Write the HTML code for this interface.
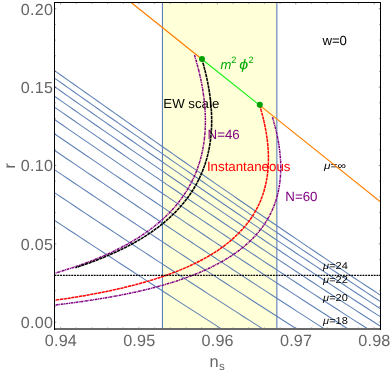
<!DOCTYPE html>
<html><head><meta charset="utf-8"><title>plot</title>
<style>html,body{margin:0;padding:0;background:#fff;width:390px;height:371px;overflow:hidden;font-family:"Liberation Sans",sans-serif}</style>
</head><body>
<svg width="390" height="371" viewBox="0 0 390 371" style="position:absolute;left:0;top:0;will-change:opacity;text-rendering:geometricPrecision;font-family:'Liberation Sans',sans-serif">
<defs><clipPath id="c"><rect x="54.5" y="2.5" width="326.0" height="326.5"/></clipPath></defs>
<g clip-path="url(#c)">
<rect x="162.45" y="0" width="114.40" height="340" fill="#ffffd8"/>
<path d="M44.92 214.03 L50.77 217.89 L56.61 221.75 L62.46 225.60 L68.31 229.45 L74.15 233.30 L80.00 237.15 L85.84 240.99 L91.69 244.82 L97.53 248.66 L103.38 252.48 L109.22 256.31 L115.07 260.13 L120.91 263.94 L126.76 267.76 L132.60 271.56 L138.45 275.37 L144.29 279.17 L150.14 282.96 L155.98 286.75 L161.83 290.53 L167.68 294.31 L173.52 298.09 L179.37 301.86 L185.21 305.62 L191.06 309.38 L196.90 313.14 L202.75 316.89 L208.59 320.63 L214.44 324.37 L220.28 328.11 L226.13 331.83 L231.97 335.56 L237.82 339.27 L243.66 342.98 L249.51 346.69 L255.35 350.39 L261.20 354.08 L267.04 357.76 L272.89 361.44 L278.74 365.11 L284.58 368.78 L290.43 372.44 L296.27 376.09 L302.12 379.73 L307.96 383.37 L313.81 387.00 L319.65 390.62 L325.50 394.23 L331.34 397.84 L337.19 401.44 L343.03 405.03 L348.88 408.61 L354.72 412.18 L360.57 415.74 L366.41 419.29 L372.26 422.84 L378.11 426.37 L383.95 429.89 L389.80 433.41" stroke="#5e81b5" stroke-width="1.05" fill="none"/>
<path d="M44.92 186.33 L50.77 190.23 L56.61 194.13 L62.46 198.03 L68.31 201.92 L74.15 205.81 L80.00 209.70 L85.84 213.58 L91.69 217.45 L97.53 221.33 L103.38 225.20 L109.22 229.06 L115.07 232.92 L120.91 236.78 L126.76 240.63 L132.60 244.48 L138.45 248.33 L144.29 252.17 L150.14 256.00 L155.98 259.83 L161.83 263.66 L167.68 267.48 L173.52 271.29 L179.37 275.11 L185.21 278.91 L191.06 282.71 L196.90 286.51 L202.75 290.30 L208.59 294.09 L214.44 297.87 L220.28 301.64 L226.13 305.41 L231.97 309.18 L237.82 312.93 L243.66 316.69 L249.51 320.43 L255.35 324.17 L261.20 327.90 L267.04 331.63 L272.89 335.35 L278.74 339.06 L284.58 342.77 L290.43 346.47 L296.27 350.16 L302.12 353.84 L307.96 357.52 L313.81 361.19 L319.65 364.85 L325.50 368.51 L331.34 372.15 L337.19 375.79 L343.03 379.42 L348.88 383.03 L354.72 386.64 L360.57 390.24 L366.41 393.84 L372.26 397.42 L378.11 400.99 L383.95 404.55 L389.80 408.10" stroke="#5e81b5" stroke-width="1.05" fill="none"/>
<path d="M44.92 163.27 L50.77 167.21 L56.61 171.15 L62.46 175.08 L68.31 179.01 L74.15 182.94 L80.00 186.86 L85.84 190.78 L91.69 194.70 L97.53 198.61 L103.38 202.51 L109.22 206.42 L115.07 210.32 L120.91 214.21 L126.76 218.10 L132.60 221.99 L138.45 225.87 L144.29 229.75 L150.14 233.62 L155.98 237.49 L161.83 241.36 L167.68 245.22 L173.52 249.07 L179.37 252.92 L185.21 256.77 L191.06 260.61 L196.90 264.44 L202.75 268.27 L208.59 272.10 L214.44 275.91 L220.28 279.73 L226.13 283.54 L231.97 287.34 L237.82 291.13 L243.66 294.92 L249.51 298.71 L255.35 302.49 L261.20 306.26 L267.04 310.02 L272.89 313.78 L278.74 317.53 L284.58 321.28 L290.43 325.02 L296.27 328.75 L302.12 332.47 L307.96 336.18 L313.81 339.89 L319.65 343.59 L325.50 347.28 L331.34 350.97 L337.19 354.64 L343.03 358.31 L348.88 361.96 L354.72 365.61 L360.57 369.25 L366.41 372.87 L372.26 376.49 L378.11 380.10 L383.95 383.69 L389.80 387.28" stroke="#5e81b5" stroke-width="1.05" fill="none"/>
<path d="M44.92 143.83 L50.77 147.80 L56.61 151.77 L62.46 155.74 L68.31 159.70 L74.15 163.66 L80.00 167.62 L85.84 171.58 L91.69 175.52 L97.53 179.47 L103.38 183.41 L109.22 187.35 L115.07 191.29 L120.91 195.22 L126.76 199.14 L132.60 203.06 L138.45 206.98 L144.29 210.89 L150.14 214.80 L155.98 218.71 L161.83 222.61 L167.68 226.50 L173.52 230.39 L179.37 234.28 L185.21 238.16 L191.06 242.04 L196.90 245.91 L202.75 249.77 L208.59 253.63 L214.44 257.49 L220.28 261.34 L226.13 265.18 L231.97 269.02 L237.82 272.85 L243.66 276.68 L249.51 280.50 L255.35 284.32 L261.20 288.12 L267.04 291.92 L272.89 295.72 L278.74 299.51 L284.58 303.29 L290.43 307.06 L296.27 310.83 L302.12 314.59 L307.96 318.34 L313.81 322.08 L319.65 325.82 L325.50 329.55 L331.34 333.27 L337.19 336.98 L343.03 340.68 L348.88 344.37 L354.72 348.05 L360.57 351.72 L366.41 355.39 L372.26 359.04 L378.11 362.68 L383.95 366.31 L389.80 369.93" stroke="#5e81b5" stroke-width="1.05" fill="none"/>
<path d="M44.92 127.23 L50.77 131.24 L56.61 135.24 L62.46 139.24 L68.31 143.24 L74.15 147.23 L80.00 151.22 L85.84 155.21 L91.69 159.19 L97.53 163.17 L103.38 167.14 L109.22 171.11 L115.07 175.08 L120.91 179.04 L126.76 183.00 L132.60 186.95 L138.45 190.90 L144.29 194.85 L150.14 198.79 L155.98 202.73 L161.83 206.66 L167.68 210.59 L173.52 214.51 L179.37 218.43 L185.21 222.35 L191.06 226.26 L196.90 230.16 L202.75 234.06 L208.59 237.96 L214.44 241.84 L220.28 245.73 L226.13 249.61 L231.97 253.48 L237.82 257.34 L243.66 261.20 L249.51 265.06 L255.35 268.91 L261.20 272.75 L267.04 276.59 L272.89 280.41 L278.74 284.24 L284.58 288.05 L290.43 291.86 L296.27 295.66 L302.12 299.45 L307.96 303.24 L313.81 307.02 L319.65 310.79 L325.50 314.55 L331.34 318.30 L337.19 322.05 L343.03 325.78 L348.88 329.51 L354.72 333.22 L360.57 336.93 L366.41 340.63 L372.26 344.31 L378.11 347.99 L383.95 351.65 L389.80 355.30" stroke="#5e81b5" stroke-width="1.05" fill="none"/>
<path d="M44.92 112.93 L50.77 116.97 L56.61 121.00 L62.46 125.03 L68.31 129.06 L74.15 133.08 L80.00 137.10 L85.84 141.11 L91.69 145.12 L97.53 149.13 L103.38 153.14 L109.22 157.14 L115.07 161.13 L120.91 165.13 L126.76 169.11 L132.60 173.10 L138.45 177.08 L144.29 181.06 L150.14 185.03 L155.98 189.00 L161.83 192.96 L167.68 196.92 L173.52 200.88 L179.37 204.83 L185.21 208.77 L191.06 212.71 L196.90 216.65 L202.75 220.58 L208.59 224.50 L214.44 228.42 L220.28 232.34 L226.13 236.25 L231.97 240.15 L237.82 244.05 L243.66 247.94 L249.51 251.83 L255.35 255.71 L261.20 259.58 L267.04 263.45 L272.89 267.31 L278.74 271.17 L284.58 275.01 L290.43 278.85 L296.27 282.69 L302.12 286.51 L307.96 290.33 L313.81 294.14 L319.65 297.94 L325.50 301.74 L331.34 305.52 L337.19 309.30 L343.03 313.07 L348.88 316.83 L354.72 320.58 L360.57 324.31 L366.41 328.04 L372.26 331.76 L378.11 335.47 L383.95 339.16 L389.80 342.85" stroke="#5e81b5" stroke-width="1.05" fill="none"/>
<path d="M44.92 100.50 L50.77 104.56 L56.61 108.62 L62.46 112.68 L68.31 116.73 L74.15 120.78 L80.00 124.82 L85.84 128.87 L91.69 132.91 L97.53 136.94 L103.38 140.97 L109.22 145.00 L115.07 149.03 L120.91 153.05 L126.76 157.06 L132.60 161.08 L138.45 165.09 L144.29 169.09 L150.14 173.09 L155.98 177.09 L161.83 181.08 L167.68 185.07 L173.52 189.05 L179.37 193.03 L185.21 197.01 L191.06 200.97 L196.90 204.94 L202.75 208.90 L208.59 212.85 L214.44 216.80 L220.28 220.75 L226.13 224.69 L231.97 228.62 L237.82 232.55 L243.66 236.47 L249.51 240.39 L255.35 244.30 L261.20 248.20 L267.04 252.10 L272.89 255.99 L278.74 259.88 L284.58 263.75 L290.43 267.62 L296.27 271.49 L302.12 275.34 L307.96 279.19 L313.81 283.03 L319.65 286.87 L325.50 290.69 L331.34 294.51 L337.19 298.32 L343.03 302.11 L348.88 305.90 L354.72 309.68 L360.57 313.45 L366.41 317.21 L372.26 320.96 L378.11 324.70 L383.95 328.42 L389.80 332.14" stroke="#5e81b5" stroke-width="1.05" fill="none"/>
<path d="M44.92 89.60 L50.77 93.68 L56.61 97.77 L62.46 101.85 L68.31 105.93 L74.15 110.00 L80.00 114.07 L85.84 118.14 L91.69 122.21 L97.53 126.27 L103.38 130.32 L109.22 134.38 L115.07 138.43 L120.91 142.48 L126.76 146.52 L132.60 150.56 L138.45 154.59 L144.29 158.63 L150.14 162.65 L155.98 166.68 L161.83 170.69 L167.68 174.71 L173.52 178.72 L179.37 182.73 L185.21 186.73 L191.06 190.72 L196.90 194.72 L202.75 198.70 L208.59 202.68 L214.44 206.66 L220.28 210.63 L226.13 214.60 L231.97 218.56 L237.82 222.52 L243.66 226.47 L249.51 230.41 L255.35 234.35 L261.20 238.28 L267.04 242.21 L272.89 246.13 L278.74 250.04 L284.58 253.95 L290.43 257.85 L296.27 261.74 L302.12 265.63 L307.96 269.50 L313.81 273.37 L319.65 277.23 L325.50 281.09 L331.34 284.93 L337.19 288.77 L343.03 292.60 L348.88 296.42 L354.72 300.22 L360.57 304.02 L366.41 307.81 L372.26 311.59 L378.11 315.36 L383.95 319.11 L389.80 322.85" stroke="#5e81b5" stroke-width="1.05" fill="none"/>
<path d="M44.92 79.97 L50.77 84.08 L56.61 88.19 L62.46 92.29 L68.31 96.39 L74.15 100.49 L80.00 104.59 L85.84 108.68 L91.69 112.77 L97.53 116.85 L103.38 120.93 L109.22 125.01 L115.07 129.09 L120.91 133.16 L126.76 137.23 L132.60 141.29 L138.45 145.35 L144.29 149.40 L150.14 153.46 L155.98 157.50 L161.83 161.55 L167.68 165.59 L173.52 169.62 L179.37 173.65 L185.21 177.68 L191.06 181.70 L196.90 185.72 L202.75 189.73 L208.59 193.74 L214.44 197.74 L220.28 201.74 L226.13 205.73 L231.97 209.72 L237.82 213.70 L243.66 217.68 L249.51 221.65 L255.35 225.61 L261.20 229.57 L267.04 233.53 L272.89 237.47 L278.74 241.41 L284.58 245.35 L290.43 249.27 L296.27 253.19 L302.12 257.10 L307.96 261.01 L313.81 264.91 L319.65 268.79 L325.50 272.68 L331.34 276.55 L337.19 280.41 L343.03 284.27 L348.88 288.11 L354.72 291.95 L360.57 295.78 L366.41 299.59 L372.26 303.40 L378.11 307.19 L383.95 310.98 L389.80 314.75" stroke="#5e81b5" stroke-width="1.05" fill="none"/>
<path d="M44.92 71.42 L50.77 75.55 L56.61 79.68 L62.46 83.80 L68.31 87.93 L74.15 92.05 L80.00 96.16 L85.84 100.28 L91.69 104.39 L97.53 108.49 L103.38 112.60 L109.22 116.70 L115.07 120.80 L120.91 124.89 L126.76 128.98 L132.60 133.06 L138.45 137.15 L144.29 141.23 L150.14 145.30 L155.98 149.37 L161.83 153.44 L167.68 157.50 L173.52 161.56 L179.37 165.61 L185.21 169.67 L191.06 173.71 L196.90 177.75 L202.75 181.79 L208.59 185.82 L214.44 189.85 L220.28 193.87 L226.13 197.89 L231.97 201.90 L237.82 205.90 L243.66 209.90 L249.51 213.90 L255.35 217.89 L261.20 221.87 L267.04 225.85 L272.89 229.82 L278.74 233.79 L284.58 237.75 L290.43 241.70 L296.27 245.64 L302.12 249.58 L307.96 253.51 L313.81 257.43 L319.65 261.35 L325.50 265.26 L331.34 269.16 L337.19 273.05 L343.03 276.93 L348.88 280.80 L354.72 284.66 L360.57 288.52 L366.41 292.36 L372.26 296.19 L378.11 300.01 L383.95 303.82 L389.80 307.62" stroke="#5e81b5" stroke-width="1.05" fill="none"/>
<path d="M44.92 63.77 L50.77 67.92 L56.61 72.07 L62.46 76.22 L68.31 80.36 L74.15 84.50 L80.00 88.64 L85.84 92.77 L91.69 96.90 L97.53 101.03 L103.38 105.15 L109.22 109.27 L115.07 113.39 L120.91 117.51 L126.76 121.62 L132.60 125.73 L138.45 129.83 L144.29 133.93 L150.14 138.03 L155.98 142.12 L161.83 146.21 L167.68 150.29 L173.52 154.37 L179.37 158.45 L185.21 162.52 L191.06 166.59 L196.90 170.65 L202.75 174.71 L208.59 178.76 L214.44 182.81 L220.28 186.86 L226.13 190.90 L231.97 194.93 L237.82 198.96 L243.66 202.99 L249.51 207.00 L255.35 211.02 L261.20 215.02 L267.04 219.03 L272.89 223.02 L278.74 227.01 L284.58 230.99 L290.43 234.97 L296.27 238.94 L302.12 242.90 L307.96 246.85 L313.81 250.80 L319.65 254.74 L325.50 258.67 L331.34 262.60 L337.19 266.51 L343.03 270.42 L348.88 274.32 L354.72 278.20 L360.57 282.08 L366.41 285.95 L372.26 289.81 L378.11 293.65 L383.95 297.49 L389.80 301.31" stroke="#5e81b5" stroke-width="1.05" fill="none"/>
<line x1="162.45" y1="0" x2="162.45" y2="340" stroke="#5e81b5" stroke-width="1.1"/>
<line x1="276.85" y1="0" x2="276.85" y2="340" stroke="#5e81b5" stroke-width="1.1"/>
<text x="322.4" y="45.0" font-size="13.2" fill="#000" text-anchor="start" >w=0</text>
<text x="163.3" y="107.6" font-size="13.25" fill="#000" text-anchor="start" >EW scale</text>
<text x="207.6" y="139.0" font-size="13.3" fill="#800080" text-anchor="start" >N=46</text>
<text x="206.9" y="170.6" font-size="13.3" fill="#ff0000" text-anchor="start" >Instantaneous</text>
<text x="285.3" y="201.4" font-size="13.3" fill="#800080" text-anchor="start" >N=60</text>
<text x="220.6" y="68.7" font-size="13" fill="#00aa00" text-anchor="start" font-style="italic">m</text>
<text x="231.3" y="63.0" font-size="9.2" fill="#00aa00" text-anchor="start" >2</text>
<text transform="translate(239.3,68.7) scale(1.24,1.05)" font-size="13" fill="#00aa00" font-style="italic">ϕ</text>
<text x="248.4" y="63.0" font-size="9.2" fill="#00aa00" text-anchor="start" >2</text>
<text transform="translate(324.0,169.4) scale(1.19,1)" font-size="10" fill="#000"><tspan font-style="italic">μ</tspan>=∞</text>
<text transform="translate(323.1,268.6) scale(1.1,1)" font-size="10" fill="#000"><tspan font-style="italic">μ</tspan>=24</text>
<text transform="translate(323.1,283.0) scale(1.1,1)" font-size="10" fill="#000"><tspan font-style="italic">μ</tspan>=22</text>
<text transform="translate(323.1,300.8) scale(1.1,1)" font-size="10" fill="#000"><tspan font-style="italic">μ</tspan>=20</text>
<text transform="translate(323.1,324.4) scale(1.1,1)" font-size="10" fill="#000"><tspan font-style="italic">μ</tspan>=18</text>
<line x1="100" y1="-22.42" x2="202.0" y2="59.15" stroke="#ff8000" stroke-width="1.25"/>
<line x1="259.8" y1="105.37" x2="400" y2="217.49" stroke="#ff8000" stroke-width="1.25"/>
<line x1="202.0" y1="59.15" x2="259.8" y2="105.37" stroke="#1cf01c" stroke-width="1.25"/>
<path d="M194.52 55.02 L194.53 55.07 L194.55 55.11 L194.56 55.16 L194.58 55.21 L194.59 55.27 L194.61 55.32 L194.62 55.37 L194.64 55.43 L194.66 55.48 L194.67 55.54 L194.69 55.60 L194.71 55.65 L194.73 55.71 L194.75 55.78 L194.76 55.84 L194.78 55.90 L194.80 55.97 L194.82 56.03 L194.84 56.10 L194.86 56.17 L194.88 56.24 L194.91 56.31 L194.93 56.38 L194.95 56.46 L194.97 56.53 L194.99 56.61 L195.02 56.69 L195.04 56.77 L195.07 56.85 L195.09 56.93 L195.12 57.02 L195.14 57.10 L195.17 57.19 L195.19 57.28 L195.22 57.37 L195.25 57.47 L195.28 57.56 L195.30 57.66 L195.33 57.76 L195.36 57.86 L195.39 57.96 L195.42 58.07 L195.46 58.17 L195.49 58.28 L195.52 58.39 L195.55 58.51 L195.59 58.62 L195.62 58.74 L195.66 58.86 L195.69 58.98 L195.73 59.11 L195.76 59.24 L195.80 59.37 L195.84 59.50 L195.88 59.64 L195.92 59.77 L195.96 59.91 L196.00 60.06 L196.04 60.20 L196.08 60.35 L196.13 60.51 L196.17 60.66 L196.21 60.82 L196.26 60.98 L196.31 61.14 L196.35 61.31 L196.40 61.48 L196.45 61.66 L196.50 61.84 L196.55 62.02 L196.60 62.20 L196.65 62.39 L196.71 62.58 L196.76 62.78 L196.82 62.98 L196.87 63.19 L196.93 63.39 L196.99 63.61 L197.05 63.82 L197.10 64.05 L197.17 64.27 L197.23 64.50 L197.29 64.74 L197.35 64.98 L197.42 65.22 L197.49 65.47 L197.55 65.72 L197.62 65.98 L197.69 66.25 L197.76 66.52 L197.83 66.79 L197.90 67.07 L197.98 67.36 L198.05 67.65 L198.13 67.95 L198.21 68.25 L198.29 68.57 L198.37 68.88 L198.45 69.21 L198.53 69.53 L198.61 69.87 L198.70 70.21 L198.78 70.56 L198.87 70.92 L198.96 71.29 L199.05 71.66 L199.14 72.04 L199.23 72.43 L199.33 72.82 L199.42 73.23 L199.52 73.64 L199.61 74.06 L199.71 74.49 L199.81 74.92 L199.91 75.37 L200.02 75.83 L200.12 76.29 L200.23 76.77 L200.33 77.25 L200.44 77.75 L200.55 78.25 L200.66 78.77 L200.77 79.30 L200.88 79.83 L200.99 80.38 L201.11 80.94 L201.22 81.51 L201.34 82.10 L201.45 82.69 L201.57 83.30 L201.69 83.92 L201.81 84.56 L201.93 85.21 L202.05 85.87 L202.17 86.54 L202.29 87.23 L202.41 87.94 L202.54 88.65 L202.66 89.39 L202.78 90.14 L202.90 90.90 L203.03 91.69 L203.15 92.48 L203.27 93.30 L203.39 94.13 L203.51 94.98 L203.63 95.85 L203.75 96.74 L203.86 97.65 L203.98 98.57 L204.09 99.52 L204.20 100.48 L204.31 101.47 L204.42 102.48 L204.52 103.51 L204.62 104.56 L204.71 105.64 L204.80 106.73 L204.89 107.86 L204.97 109.00 L205.05 110.17 L205.12 111.37 L205.18 112.59 L205.24 113.84 L205.29 115.11 L205.33 116.41 L205.36 117.75 L205.38 119.10 L205.39 120.49 L205.39 121.91 L205.37 123.36 L205.35 124.84 L205.31 126.35 L205.25 127.90 L205.17 129.48 L205.08 131.09 L204.97 132.74 L204.83 134.42 L204.68 136.13 L204.50 137.89 L204.29 139.68 L204.06 141.51 L203.79 143.37 L203.49 145.28 L203.16 147.23 L202.79 149.21 L202.39 151.24 L201.93 153.31 L201.44 155.42 L200.89 157.57 L200.29 159.76 L199.64 162.00 L198.92 164.29 L198.14 166.61 L197.29 168.99 L196.37 171.40 L195.37 173.87 L194.29 176.37 L193.11 178.93 L191.84 181.52 L190.46 184.17 L188.97 186.86 L187.37 189.59 L185.64 192.37 L183.77 195.19 L181.76 198.05 L179.59 200.96 L177.26 203.90 L174.76 206.89 L172.06 209.91 L169.17 212.97 L166.06 216.07 L162.72 219.20 L159.14 222.35 L155.30 225.54 L151.18 228.75 L146.77 231.98 L142.04 235.23 L136.98 238.49 L131.57 241.76 L125.78 245.04 L119.58 248.32 L112.96 251.59 L105.90 254.86 L98.35 258.10 L90.30 261.33 L81.71 264.53 L72.56 267.69 L62.81 270.81 L52.43 273.89 L41.38 276.91 L29.65 279.86 L17.17 282.75 L3.93 285.56" stroke="#800080" stroke-width="1.5" fill="none" stroke-dasharray="2.7 0.6 1.0 0.6"/>
<path d="M272.44 117.10 L272.45 117.14 L272.46 117.19 L272.47 117.23 L272.49 117.27 L272.50 117.32 L272.51 117.36 L272.53 117.41 L272.54 117.46 L272.56 117.51 L272.57 117.56 L272.59 117.61 L272.60 117.66 L272.62 117.71 L272.63 117.77 L272.65 117.82 L272.67 117.88 L272.68 117.93 L272.70 117.99 L272.72 118.05 L272.74 118.11 L272.76 118.17 L272.77 118.24 L272.79 118.30 L272.81 118.36 L272.83 118.43 L272.85 118.50 L272.87 118.57 L272.89 118.64 L272.91 118.71 L272.94 118.78 L272.96 118.86 L272.98 118.93 L273.00 119.01 L273.03 119.09 L273.05 119.17 L273.07 119.25 L273.10 119.34 L273.12 119.42 L273.15 119.51 L273.17 119.60 L273.20 119.69 L273.23 119.78 L273.25 119.88 L273.28 119.97 L273.31 120.07 L273.34 120.17 L273.37 120.27 L273.40 120.37 L273.43 120.48 L273.46 120.59 L273.49 120.70 L273.52 120.81 L273.56 120.93 L273.59 121.04 L273.62 121.16 L273.66 121.28 L273.69 121.41 L273.73 121.53 L273.76 121.66 L273.80 121.79 L273.84 121.93 L273.88 122.06 L273.91 122.20 L273.95 122.34 L273.99 122.49 L274.04 122.64 L274.08 122.79 L274.12 122.94 L274.16 123.10 L274.21 123.26 L274.25 123.42 L274.30 123.59 L274.34 123.76 L274.39 123.93 L274.44 124.11 L274.48 124.29 L274.53 124.47 L274.58 124.66 L274.63 124.85 L274.69 125.05 L274.74 125.25 L274.79 125.45 L274.85 125.66 L274.90 125.87 L274.96 126.08 L275.01 126.30 L275.07 126.53 L275.13 126.76 L275.19 126.99 L275.25 127.23 L275.31 127.47 L275.37 127.72 L275.44 127.97 L275.50 128.23 L275.57 128.49 L275.63 128.76 L275.70 129.04 L275.77 129.32 L275.84 129.60 L275.91 129.89 L275.98 130.19 L276.05 130.49 L276.12 130.80 L276.20 131.12 L276.27 131.44 L276.35 131.77 L276.42 132.11 L276.50 132.45 L276.58 132.80 L276.66 133.16 L276.74 133.52 L276.82 133.89 L276.90 134.27 L276.99 134.66 L277.07 135.06 L277.16 135.46 L277.24 135.87 L277.33 136.29 L277.42 136.72 L277.51 137.16 L277.60 137.61 L277.69 138.07 L277.78 138.53 L277.87 139.01 L277.96 139.50 L278.05 139.99 L278.14 140.50 L278.24 141.02 L278.33 141.55 L278.43 142.09 L278.52 142.64 L278.61 143.20 L278.71 143.78 L278.80 144.37 L278.90 144.97 L278.99 145.58 L279.08 146.21 L279.18 146.84 L279.27 147.50 L279.36 148.16 L279.45 148.84 L279.54 149.54 L279.63 150.25 L279.72 150.98 L279.80 151.72 L279.89 152.47 L279.97 153.25 L280.05 154.04 L280.12 154.85 L280.20 155.67 L280.27 156.51 L280.34 157.37 L280.40 158.25 L280.46 159.15 L280.51 160.07 L280.56 161.00 L280.61 161.96 L280.65 162.94 L280.68 163.94 L280.70 164.96 L280.72 166.00 L280.73 167.07 L280.73 168.16 L280.72 169.27 L280.70 170.40 L280.67 171.56 L280.63 172.75 L280.57 173.96 L280.50 175.20 L280.42 176.46 L280.32 177.75 L280.20 179.07 L280.06 180.41 L279.91 181.79 L279.73 183.19 L279.53 184.62 L279.30 186.08 L279.05 187.58 L278.77 189.10 L278.46 190.66 L278.12 192.24 L277.74 193.86 L277.32 195.51 L276.87 197.20 L276.37 198.92 L275.83 200.67 L275.23 202.45 L274.59 204.27 L273.88 206.13 L273.12 208.02 L272.29 209.94 L271.40 211.90 L270.43 213.89 L269.38 215.92 L268.24 217.99 L267.02 220.08 L265.70 222.21 L264.27 224.38 L262.74 226.58 L261.09 228.81 L259.31 231.07 L257.40 233.36 L255.34 235.68 L253.13 238.03 L250.76 240.41 L248.21 242.81 L245.48 245.24 L242.55 247.68 L239.40 250.15 L236.04 252.63 L232.43 255.13 L228.56 257.63 L224.43 260.15 L220.01 262.67 L215.28 265.19 L210.22 267.70 L204.83 270.21 L199.06 272.71 L192.91 275.19 L186.35 277.65 L179.36 280.08 L171.91 282.49 L163.98 284.85 L155.54 287.18 L146.57 289.45 L137.04 291.68 L126.92 293.85 L116.19 295.95 L104.80 297.98 L92.75 299.94 L79.99 301.83 L66.49 303.63 L52.23 305.35 L37.18 306.97 L21.30 308.51 L4.57 309.95" stroke="#800080" stroke-width="1.5" fill="none" stroke-dasharray="2.7 0.6 1.0 0.6"/>
<path d="M201.94 59.19 L201.95 59.20 L201.95 59.20 L201.95 59.20 L201.95 59.21 L201.95 59.21 L201.95 59.22 L201.95 59.22 L201.95 59.23 L201.96 59.23 L201.96 59.24 L201.96 59.24 L201.96 59.25 L201.96 59.25 L201.96 59.26 L201.96 59.26 L201.97 59.27 L201.97 59.27 L201.97 59.28 L201.97 59.29 L201.97 59.29 L201.98 59.30 L201.98 59.31 L201.98 59.31 L201.98 59.32 L201.98 59.33 L201.99 59.34 L201.99 59.35 L201.99 59.35 L201.99 59.36 L202.00 59.37 L202.00 59.38 L202.00 59.39 L202.01 59.40 L202.01 59.41 L202.01 59.42 L202.01 59.43 L202.02 59.44 L202.02 59.46 L202.02 59.47 L202.03 59.48 L202.03 59.49 L202.04 59.51 L202.04 59.52 L202.04 59.53 L202.05 59.55 L202.05 59.56 L202.06 59.58 L202.06 59.59 L202.07 59.61 L202.07 59.63 L202.08 59.64 L202.08 59.66 L202.09 59.68 L202.09 59.70 L202.10 59.72 L202.10 59.74 L202.11 59.76 L202.12 59.78 L202.12 59.80 L202.13 59.82 L202.13 59.85 L202.14 59.87 L202.15 59.90 L202.16 59.92 L202.16 59.95 L202.17 59.98 L202.18 60.00 L202.19 60.03 L202.20 60.06 L202.21 60.09 L202.22 60.13 L202.22 60.16 L202.23 60.19 L202.24 60.23 L202.25 60.26 L202.27 60.30 L202.28 60.34 L202.29 60.38 L202.30 60.42 L202.31 60.46 L202.32 60.50 L202.34 60.55 L202.35 60.59 L202.36 60.64 L202.38 60.69 L202.39 60.74 L202.41 60.79 L202.42 60.85 L202.44 60.90 L202.45 60.96 L202.47 61.02 L202.49 61.08 L202.51 61.14 L202.53 61.21 L202.54 61.28 L202.56 61.34 L202.58 61.42 L202.60 61.49 L202.63 61.56 L202.65 61.64 L202.67 61.72 L202.69 61.81 L202.72 61.89 L202.74 61.98 L202.77 62.07 L202.80 62.16 L202.82 62.26 L202.85 62.36 L202.88 62.46 L202.91 62.57 L202.94 62.68 L202.97 62.79 L203.00 62.91 L203.04 63.03 L203.07 63.16 L203.11 63.28 L203.14 63.42 L203.18 63.55 L203.22 63.69 L203.26 63.84 L203.30 63.99 L203.34 64.14 L203.39 64.30 L203.43 64.47 L203.48 64.64 L203.53 64.81 L203.58 64.99 L203.63 65.18 L203.68 65.37 L203.73 65.57 L203.79 65.78 L203.84 65.99 L203.90 66.21 L203.96 66.43 L204.02 66.67 L204.08 66.91 L204.15 67.16 L204.22 67.41 L204.28 67.68 L204.36 67.95 L204.43 68.23 L204.50 68.52 L204.58 68.82 L204.66 69.13 L204.74 69.45 L204.82 69.78 L204.91 70.12 L205.00 70.47 L205.09 70.84 L205.18 71.21 L205.27 71.60 L205.37 72.00 L205.47 72.41 L205.57 72.84 L205.68 73.28 L205.78 73.73 L205.89 74.20 L206.01 74.69 L206.12 75.19 L206.24 75.71 L206.36 76.24 L206.48 76.79 L206.61 77.37 L206.74 77.96 L206.87 78.56 L207.01 79.19 L207.14 79.85 L207.28 80.52 L207.42 81.21 L207.57 81.93 L207.72 82.67 L207.87 83.44 L208.02 84.23 L208.17 85.05 L208.33 85.90 L208.49 86.78 L208.65 87.68 L208.81 88.62 L208.97 89.59 L209.14 90.59 L209.30 91.63 L209.47 92.70 L209.63 93.81 L209.79 94.96 L209.96 96.14 L210.12 97.37 L210.28 98.64 L210.43 99.95 L210.59 101.31 L210.73 102.72 L210.88 104.17 L211.01 105.68 L211.14 107.24 L211.26 108.85 L211.36 110.52 L211.46 112.25 L211.54 114.04 L211.60 115.89 L211.65 117.81 L211.67 119.80 L211.67 121.85 L211.65 123.98 L211.59 126.18 L211.49 128.46 L211.36 130.82 L211.19 133.26 L210.96 135.78 L210.68 138.39 L210.34 141.10 L209.93 143.89 L209.44 146.79 L208.87 149.78 L208.20 152.87 L207.43 156.06 L206.53 159.36 L205.50 162.77 L204.33 166.29 L202.98 169.91 L201.46 173.66 L199.73 177.51 L197.77 181.48 L195.56 185.56 L193.06 189.76 L190.26 194.07 L187.10 198.49 L183.56 203.01 L179.58 207.64 L175.13 212.37 L170.15 217.19 L164.57 222.09 L158.35 227.06 L151.41 232.10 L143.68 237.18 L135.06 242.29 L125.48 247.42 L114.84 252.55 L103.02 257.65 L89.93 262.70 L75.43 267.68" stroke="#000" stroke-width="1.6" fill="none" stroke-dasharray="3.25 0.6"/>
<path d="M259.71 105.38 L259.71 105.38 L259.71 105.38 L259.71 105.39 L259.71 105.39 L259.71 105.40 L259.71 105.40 L259.71 105.40 L259.72 105.41 L259.72 105.41 L259.72 105.42 L259.72 105.42 L259.72 105.43 L259.72 105.43 L259.73 105.44 L259.73 105.44 L259.73 105.45 L259.73 105.45 L259.73 105.46 L259.73 105.47 L259.74 105.47 L259.74 105.48 L259.74 105.49 L259.74 105.49 L259.74 105.50 L259.75 105.51 L259.75 105.51 L259.75 105.52 L259.75 105.53 L259.76 105.54 L259.76 105.55 L259.76 105.56 L259.76 105.57 L259.77 105.58 L259.77 105.58 L259.77 105.60 L259.78 105.61 L259.78 105.62 L259.78 105.63 L259.79 105.64 L259.79 105.65 L259.79 105.66 L259.80 105.68 L259.80 105.69 L259.81 105.70 L259.81 105.72 L259.81 105.73 L259.82 105.74 L259.82 105.76 L259.83 105.78 L259.83 105.79 L259.84 105.81 L259.84 105.83 L259.85 105.84 L259.85 105.86 L259.86 105.88 L259.86 105.90 L259.87 105.92 L259.88 105.94 L259.88 105.96 L259.89 105.99 L259.90 106.01 L259.90 106.03 L259.91 106.06 L259.92 106.08 L259.93 106.11 L259.94 106.13 L259.94 106.16 L259.95 106.19 L259.96 106.22 L259.97 106.25 L259.98 106.28 L259.99 106.32 L260.00 106.35 L260.01 106.38 L260.02 106.42 L260.03 106.46 L260.04 106.49 L260.05 106.53 L260.07 106.57 L260.08 106.62 L260.09 106.66 L260.10 106.70 L260.12 106.75 L260.13 106.80 L260.15 106.84 L260.16 106.90 L260.18 106.95 L260.19 107.00 L260.21 107.06 L260.23 107.11 L260.24 107.17 L260.26 107.23 L260.28 107.30 L260.30 107.36 L260.32 107.43 L260.34 107.50 L260.36 107.57 L260.38 107.64 L260.40 107.72 L260.43 107.80 L260.45 107.88 L260.48 107.96 L260.50 108.05 L260.53 108.14 L260.55 108.23 L260.58 108.33 L260.61 108.43 L260.64 108.53 L260.67 108.63 L260.70 108.74 L260.73 108.85 L260.77 108.97 L260.80 109.09 L260.84 109.21 L260.87 109.34 L260.91 109.47 L260.95 109.60 L260.99 109.74 L261.03 109.89 L261.07 110.04 L261.11 110.19 L261.16 110.35 L261.20 110.51 L261.25 110.68 L261.30 110.86 L261.35 111.04 L261.40 111.22 L261.46 111.42 L261.51 111.62 L261.57 111.82 L261.62 112.03 L261.68 112.25 L261.75 112.48 L261.81 112.71 L261.87 112.95 L261.94 113.20 L262.01 113.46 L262.08 113.73 L262.15 114.00 L262.23 114.29 L262.30 114.58 L262.38 114.88 L262.46 115.20 L262.55 115.52 L262.63 115.86 L262.72 116.20 L262.81 116.56 L262.90 116.93 L263.00 117.31 L263.10 117.71 L263.20 118.11 L263.30 118.54 L263.40 118.97 L263.51 119.42 L263.62 119.89 L263.73 120.37 L263.85 120.87 L263.96 121.38 L264.09 121.92 L264.21 122.47 L264.33 123.03 L264.46 123.62 L264.59 124.23 L264.72 124.86 L264.86 125.51 L265.00 126.19 L265.14 126.88 L265.28 127.61 L265.42 128.35 L265.57 129.12 L265.72 129.92 L265.86 130.75 L266.01 131.60 L266.17 132.49 L266.32 133.41 L266.47 134.36 L266.62 135.34 L266.77 136.35 L266.92 137.41 L267.07 138.50 L267.22 139.62 L267.36 140.79 L267.50 142.00 L267.63 143.26 L267.76 144.55 L267.89 145.90 L268.00 147.29 L268.11 148.73 L268.20 150.23 L268.29 151.77 L268.35 153.38 L268.40 155.04 L268.44 156.75 L268.45 158.54 L268.44 160.38 L268.39 162.29 L268.32 164.27 L268.21 166.32 L268.07 168.45 L267.87 170.64 L267.63 172.92 L267.33 175.28 L266.97 177.71 L266.53 180.24 L266.02 182.85 L265.42 185.55 L264.71 188.34 L263.90 191.22 L262.95 194.20 L261.87 197.27 L260.63 200.44 L259.22 203.71 L257.61 207.08 L255.79 210.55 L253.71 214.11 L251.37 217.77 L248.73 221.53 L245.74 225.37 L242.38 229.31 L238.60 233.32 L234.36 237.42 L229.60 241.58 L224.26 245.80 L218.28 250.07 L211.60 254.37 L204.14 258.70 L195.81 263.03 L186.53 267.35 L176.21 271.64 L164.73 275.87 L152.00 280.02 L137.90 284.08 L122.31 288.01 L105.09 291.78 L86.12 295.39 L65.27 298.79 L42.39 301.98 L17.35 304.92" stroke="#ff0000" stroke-width="1.5" fill="none" stroke-dasharray="3.25 0.6"/>
<circle cx="202.00" cy="59.10" r="3" fill="#00a000"/>
<circle cx="259.80" cy="104.70" r="3" fill="#00a000"/>
<line x1="54.5" y1="275.45" x2="380.5" y2="275.45" stroke="#000" stroke-width="1.3" stroke-dasharray="1.9 0.9"/>
</g>
<g stroke="#000" stroke-opacity="0.4" stroke-width="1"><line x1="60.60" y1="328" x2="60.60" y2="326.7" stroke-opacity="0.25"/><line x1="60.60" y1="3" x2="60.60" y2="4.3"/><line x1="76.28" y1="328" x2="76.28" y2="327.2" stroke-opacity="0.25"/><line x1="76.28" y1="3" x2="76.28" y2="3.8"/><line x1="91.95" y1="328" x2="91.95" y2="327.2" stroke-opacity="0.25"/><line x1="91.95" y1="3" x2="91.95" y2="3.8"/><line x1="107.63" y1="328" x2="107.63" y2="327.2" stroke-opacity="0.25"/><line x1="107.63" y1="3" x2="107.63" y2="3.8"/><line x1="123.30" y1="328" x2="123.30" y2="327.2" stroke-opacity="0.25"/><line x1="123.30" y1="3" x2="123.30" y2="3.8"/><line x1="138.98" y1="328" x2="138.98" y2="326.7" stroke-opacity="0.25"/><line x1="138.98" y1="3" x2="138.98" y2="4.3"/><line x1="154.66" y1="328" x2="154.66" y2="327.2" stroke-opacity="0.25"/><line x1="154.66" y1="3" x2="154.66" y2="3.8"/><line x1="170.33" y1="328" x2="170.33" y2="327.2" stroke-opacity="0.25"/><line x1="170.33" y1="3" x2="170.33" y2="3.8"/><line x1="186.01" y1="328" x2="186.01" y2="327.2" stroke-opacity="0.25"/><line x1="186.01" y1="3" x2="186.01" y2="3.8"/><line x1="201.68" y1="328" x2="201.68" y2="327.2" stroke-opacity="0.25"/><line x1="201.68" y1="3" x2="201.68" y2="3.8"/><line x1="217.36" y1="328" x2="217.36" y2="326.7" stroke-opacity="0.25"/><line x1="217.36" y1="3" x2="217.36" y2="4.3"/><line x1="233.04" y1="328" x2="233.04" y2="327.2" stroke-opacity="0.25"/><line x1="233.04" y1="3" x2="233.04" y2="3.8"/><line x1="248.71" y1="328" x2="248.71" y2="327.2" stroke-opacity="0.25"/><line x1="248.71" y1="3" x2="248.71" y2="3.8"/><line x1="264.39" y1="328" x2="264.39" y2="327.2" stroke-opacity="0.25"/><line x1="264.39" y1="3" x2="264.39" y2="3.8"/><line x1="280.06" y1="328" x2="280.06" y2="327.2" stroke-opacity="0.25"/><line x1="280.06" y1="3" x2="280.06" y2="3.8"/><line x1="295.74" y1="328" x2="295.74" y2="326.7" stroke-opacity="0.25"/><line x1="295.74" y1="3" x2="295.74" y2="4.3"/><line x1="311.42" y1="328" x2="311.42" y2="327.2" stroke-opacity="0.25"/><line x1="311.42" y1="3" x2="311.42" y2="3.8"/><line x1="327.09" y1="328" x2="327.09" y2="327.2" stroke-opacity="0.25"/><line x1="327.09" y1="3" x2="327.09" y2="3.8"/><line x1="342.77" y1="328" x2="342.77" y2="327.2" stroke-opacity="0.25"/><line x1="342.77" y1="3" x2="342.77" y2="3.8"/><line x1="358.44" y1="328" x2="358.44" y2="327.2" stroke-opacity="0.25"/><line x1="358.44" y1="3" x2="358.44" y2="3.8"/><line x1="374.12" y1="328" x2="374.12" y2="326.7" stroke-opacity="0.25"/><line x1="374.12" y1="3" x2="374.12" y2="4.3"/><line x1="55" y1="322.15" x2="56.3" y2="322.15"/><line x1="380" y1="322.15" x2="378.7" y2="322.15"/><line x1="55" y1="306.48" x2="55.8" y2="306.48"/><line x1="380" y1="306.48" x2="379.2" y2="306.48"/><line x1="55" y1="290.81" x2="55.8" y2="290.81"/><line x1="380" y1="290.81" x2="379.2" y2="290.81"/><line x1="55" y1="275.14" x2="55.8" y2="275.14"/><line x1="380" y1="275.14" x2="379.2" y2="275.14"/><line x1="55" y1="259.47" x2="55.8" y2="259.47"/><line x1="380" y1="259.47" x2="379.2" y2="259.47"/><line x1="55" y1="243.80" x2="56.3" y2="243.80"/><line x1="380" y1="243.80" x2="378.7" y2="243.80"/><line x1="55" y1="228.13" x2="55.8" y2="228.13"/><line x1="380" y1="228.13" x2="379.2" y2="228.13"/><line x1="55" y1="212.46" x2="55.8" y2="212.46"/><line x1="380" y1="212.46" x2="379.2" y2="212.46"/><line x1="55" y1="196.79" x2="55.8" y2="196.79"/><line x1="380" y1="196.79" x2="379.2" y2="196.79"/><line x1="55" y1="181.12" x2="55.8" y2="181.12"/><line x1="380" y1="181.12" x2="379.2" y2="181.12"/><line x1="55" y1="165.45" x2="56.3" y2="165.45"/><line x1="380" y1="165.45" x2="378.7" y2="165.45"/><line x1="55" y1="149.78" x2="55.8" y2="149.78"/><line x1="380" y1="149.78" x2="379.2" y2="149.78"/><line x1="55" y1="134.11" x2="55.8" y2="134.11"/><line x1="380" y1="134.11" x2="379.2" y2="134.11"/><line x1="55" y1="118.44" x2="55.8" y2="118.44"/><line x1="380" y1="118.44" x2="379.2" y2="118.44"/><line x1="55" y1="102.77" x2="55.8" y2="102.77"/><line x1="380" y1="102.77" x2="379.2" y2="102.77"/><line x1="55" y1="87.10" x2="56.3" y2="87.10"/><line x1="380" y1="87.10" x2="378.7" y2="87.10"/><line x1="55" y1="71.43" x2="55.8" y2="71.43"/><line x1="380" y1="71.43" x2="379.2" y2="71.43"/><line x1="55" y1="55.76" x2="55.8" y2="55.76"/><line x1="380" y1="55.76" x2="379.2" y2="55.76"/><line x1="55" y1="40.09" x2="55.8" y2="40.09"/><line x1="380" y1="40.09" x2="379.2" y2="40.09"/><line x1="55" y1="24.42" x2="55.8" y2="24.42"/><line x1="380" y1="24.42" x2="379.2" y2="24.42"/><line x1="55" y1="8.75" x2="56.3" y2="8.75"/><line x1="380" y1="8.75" x2="378.7" y2="8.75"/></g>
<rect x="54" y="328" width="327" height="2" fill="#6a6a6a"/><rect x="54" y="2" width="327" height="1" fill="#000"/><rect x="54" y="2" width="1" height="328" fill="#000"/><rect x="380" y="2" width="1" height="328" fill="#000"/>
<text x="60.90" y="346" font-size="16.2" fill="#666" text-anchor="middle" letter-spacing="0.15">0.94</text>
<text x="139.28" y="346" font-size="16.2" fill="#666" text-anchor="middle" letter-spacing="0.15">0.95</text>
<text x="217.66" y="346" font-size="16.2" fill="#666" text-anchor="middle" letter-spacing="0.15">0.96</text>
<text x="296.04" y="346" font-size="16.2" fill="#666" text-anchor="middle" letter-spacing="0.15">0.97</text>
<text x="374.42" y="346" font-size="16.2" fill="#666" text-anchor="middle" letter-spacing="0.15">0.98</text>
<text x="20.8" y="328" font-size="16.1" fill="#666" text-anchor="start" letter-spacing="0.3">0.00</text>
<text x="20.8" y="250" font-size="16.1" fill="#666" text-anchor="start" letter-spacing="0.3">0.05</text>
<text x="20.8" y="171" font-size="16.1" fill="#666" text-anchor="start" letter-spacing="0.3">0.10</text>
<text x="20.8" y="93" font-size="16.1" fill="#666" text-anchor="start" letter-spacing="0.3">0.15</text>
<text x="20.8" y="15" font-size="16.1" fill="#666" text-anchor="start" letter-spacing="0.3">0.20</text>
<text x="209.6" y="366.6" font-size="16.4" fill="#666" text-anchor="start" >n</text>
<text x="219.0" y="369.6" font-size="11.6" fill="#666" text-anchor="start" >s</text>
<text transform="translate(15.2,165.9) rotate(-90)" font-size="16.2" fill="#666" text-anchor="middle">r</text>
</svg>
</body></html>
